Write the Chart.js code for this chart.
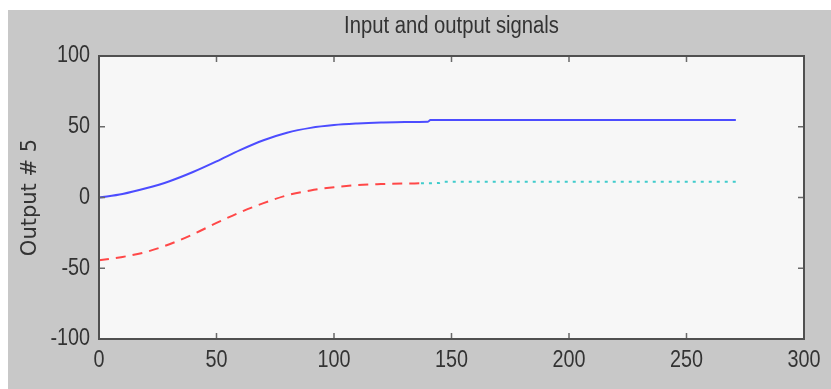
<!DOCTYPE html>
<html>
<head>
<meta charset="utf-8">
<script src="https://cdn.jsdelivr.net/npm/chart.js@4"></script>
<style>
  html, body { margin: 0; padding: 0; background: #ffffff; }
  #wrap { width: 831px; height: 389px; }
</style>
</head>
<body>
<div id="wrap"><canvas id="signals" width="831" height="389"></canvas></div>
<script>
// Output #5: model output (blue), measured signal (red dashed), continuation (cyan dotted)
const outX = [0, 10, 20, 30, 40, 50, 60, 70, 80, 90, 100, 110, 120, 130, 140, 141, 271];
const outY = [0, 2.5, 6.5, 11.5, 18, 25.5, 33.5, 40.5, 45.8, 49.2, 51.2, 52.3, 53, 53.4, 53.6, 54.8, 54.8];

const measX = [0, 10, 20, 30, 40, 50, 60, 70, 80, 90, 100, 110, 120, 130, 137];
const measY = [-44.4, -42, -38.5, -33, -26, -18, -10.5, -4, 1.5, 5, 7.3, 8.8, 9.5, 9.9, 10];

const restX = [137, 145, 147, 271];
const restY = [10, 10.2, 11.2, 11.2];

const xTicks = [0, 50, 100, 150, 200, 250, 300];
const yTicks = [-100, -50, 0, 50, 100];

const titleText = "Input and output signals";
const yLabel = "Output # 5";

const toPoints = (xs, ys) => xs.map((x, i) => ({ x: x, y: ys[i] }));

const labelFont = "23px 'Liberation Sans', Arial, sans-serif";
const textColor = "#333333";

// condensed text: squeeze horizontally around the anchor
function drawSqueezed(ctx, text, x, y, align, sx) {
  ctx.save();
  ctx.translate(x, y);
  ctx.scale(sx, 1);
  ctx.textAlign = align;
  ctx.fillText(text, 0, 0);
  ctx.restore();
}

// figure background, axes frame, inward ticks and texts
const matlabFrame = {
  id: "matlabFrame",
  beforeDraw(chart) {
    const ctx = chart.ctx;
    const a = chart.chartArea;
    ctx.save();
    ctx.fillStyle = "#c8c8c8";
    ctx.fillRect(8, 10, chart.width - 8, chart.height - 10);
    ctx.fillStyle = "#f7f7f7";
    ctx.fillRect(a.left, a.top, a.right - a.left, a.bottom - a.top);
    ctx.restore();
  },
  afterDatasetsDraw(chart) {
    const ctx = chart.ctx;
    const a = chart.chartArea;
    const xs = chart.scales.x;
    const ys = chart.scales.y;
    ctx.save();
    ctx.strokeStyle = "#6a6a6a";
    ctx.lineWidth = 1.5;
    ctx.beginPath();
    xTicks.forEach(v => {
      const px = xs.getPixelForValue(v);
      ctx.moveTo(px, a.bottom); ctx.lineTo(px, a.bottom - 6);
      ctx.moveTo(px, a.top); ctx.lineTo(px, a.top + 6);
    });
    yTicks.forEach(v => {
      const py = ys.getPixelForValue(v);
      ctx.moveTo(a.left, py); ctx.lineTo(a.left + 6, py);
      ctx.moveTo(a.right, py); ctx.lineTo(a.right - 6, py);
    });
    ctx.stroke();
    ctx.strokeStyle = "#505050";
    ctx.lineWidth = 2;
    ctx.strokeRect(a.left, a.top, a.right - a.left, a.bottom - a.top);

    ctx.fillStyle = textColor;
    ctx.textBaseline = "middle";
    ctx.font = labelFont;
    xTicks.forEach(v => {
      drawSqueezed(ctx, String(v), xs.getPixelForValue(v), a.bottom + 22, "center", 0.86);
    });
    yTicks.forEach(v => {
      drawSqueezed(ctx, String(v), a.left - 9, ys.getPixelForValue(v), "right", 0.86);
    });
    drawSqueezed(ctx, titleText, (a.left + a.right) / 2, 27, "center", 0.88);

    ctx.translate(31, (a.top + a.bottom) / 2);
    ctx.rotate(-Math.PI / 2);
    ctx.textAlign = "center";
    ctx.font = "21px 'DejaVu Sans', sans-serif";
    ctx.fillText(yLabel, 0, 0);
    ctx.restore();
  }
};

new Chart(document.getElementById("signals"), {
  type: "scatter",
  data: {
    datasets: [
      {
        data: toPoints(outX, outY),
        showLine: true,
        borderColor: "#4c4cff",
        borderWidth: 2,
        pointRadius: 0,
        cubicInterpolationMode: "monotone"
      },
      {
        data: toPoints(measX, measY),
        showLine: true,
        borderColor: "#ff4848",
        borderWidth: 2,
        borderDash: [10, 7],
        pointRadius: 0,
        cubicInterpolationMode: "monotone"
      },
      {
        data: toPoints(restX, restY),
        showLine: true,
        borderColor: "#40cccc",
        borderWidth: 2,
        borderDash: [3, 5],
        pointRadius: 0,
        tension: 0
      }
    ]
  },
  options: {
    responsive: false,
    animation: false,
    layout: { padding: { left: 0, top: 56, right: 27, bottom: 0 } },
    plugins: {
      legend: { display: false },
      tooltip: { enabled: false }
    },
    scales: {
      x: {
        type: "linear",
        min: 0,
        max: 300,
        afterFit: s => { s.height = 50; },
        afterBuildTicks: s => { s.ticks = xTicks.map(v => ({ value: v })); },
        grid: { display: false, drawTicks: false },
        border: { display: false },
        ticks: { display: false }
      },
      y: {
        type: "linear",
        min: -100,
        max: 100,
        afterFit: s => { s.width = 99; },
        afterBuildTicks: s => { s.ticks = yTicks.map(v => ({ value: v })); },
        grid: { display: false, drawTicks: false },
        border: { display: false },
        ticks: { display: false }
      }
    }
  },
  plugins: [matlabFrame]
});
</script>
</body>
</html>
